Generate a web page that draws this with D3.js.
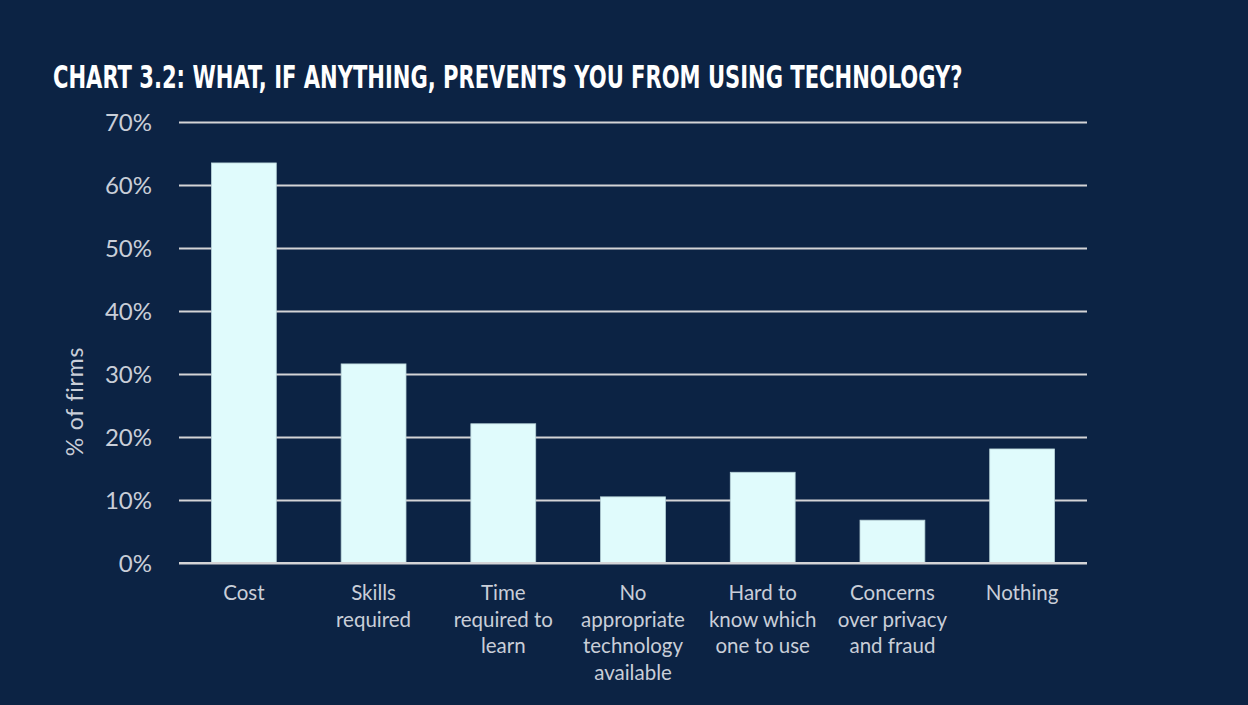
<!DOCTYPE html>
<html>
<head>
<meta charset="utf-8">
<script src="https://cdn.jsdelivr.net/npm/d3@7"></script>
<style>
  html, body { margin: 0; padding: 0; background: #0c2344; }
  svg { display: block; }
</style>
</head>
<body>
<svg id="chart" width="1248" height="705"></svg>
<script>
// Survey: barriers to technology adoption (% of firms)
const categories = [
  ["Cost"],
  ["Skills", "required"],
  ["Time", "required to", "learn"],
  ["No", "appropriate", "technology", "available"],
  ["Hard to", "know which", "one to use"],
  ["Concerns", "over privacy", "and fraud"],
  ["Nothing"]
];
const values = [63.5, 31.6, 22.1, 10.5, 14.4, 6.8, 18.1];
const yTicks = [0, 10, 20, 30, 40, 50, 60, 70];
const titleText = "CHART 3.2: WHAT, IF ANYTHING, PREVENTS YOU FROM USING TECHNOLOGY?";
const yAxisTitle = "% of firms";

const svg = d3.select("#chart");
const W = 1248, H = 705;
const labelFont = "Lato, 'Open Sans', sans-serif";
const labelColor = "#c9ced8";

svg.append("rect").attr("width", W).attr("height", H).attr("fill", "#0c2344");

const plotLeft = 179, plotRight = 1087, plotTop = 122, plotBottom = 563;

const x = d3.scaleBand()
  .domain(categories.map((d, i) => i))
  .range([plotLeft, plotRight])
  .paddingInner(0.5)
  .paddingOuter(0.25);

const y = d3.scaleLinear().domain([0, 70]).range([plotBottom, plotTop]);

// Title: condensed face, squeezed horizontally to a fixed width
const titleG = svg.append("g").attr("transform", "translate(53,88)");
const title = titleG.append("text")
  .attr("x", 0).attr("y", 0)
  .attr("fill", "#ffffff")
  .attr("font-family", "'Liberation Sans Narrow', 'DejaVu Sans Condensed', sans-serif")
  .attr("font-weight", "bold")
  .attr("font-size", 32)
  .text(titleText);
const natural = title.node().getComputedTextLength();
const titleWidth = 910;
if (natural > 0) {
  title.attr("transform", `scale(${titleWidth / natural},1)`);
}

// Gridlines and y tick labels
const yAxis = d3.axisLeft(y)
  .tickValues(yTicks)
  .tickSize(-(plotRight - plotLeft))
  .tickPadding(27)
  .tickFormat(d => d + "%");

const gy = svg.append("g")
  .attr("transform", `translate(${plotLeft},0)`)
  .call(yAxis);
gy.select(".domain").remove();
gy.selectAll(".tick line")
  .attr("stroke", "#d4d4d6")
  .attr("stroke-width", 2.2);
gy.selectAll(".tick text")
  .attr("fill", labelColor)
  .attr("font-family", labelFont)
  .attr("font-size", 24)
  .attr("dy", "0.36em");

// Bars
svg.append("g").selectAll("rect")
  .data(values)
  .join("rect")
  .attr("x", (d, i) => x(i))
  .attr("y", d => y(d))
  .attr("width", x.bandwidth())
  .attr("height", d => y(0) - y(d))
  .attr("fill", "#e0fbfc")
  .attr("stroke", "#b9d3d8")
  .attr("stroke-width", 0.8);

// Baseline over bars
svg.append("line")
  .attr("x1", plotLeft).attr("x2", plotRight)
  .attr("y1", y(0)).attr("y2", y(0))
  .attr("stroke", "#d4d4d6")
  .attr("stroke-width", 2.2);

// Category labels
const xl = svg.append("g");
categories.forEach((lines, i) => {
  const t = xl.append("text")
    .attr("x", x(i) + x.bandwidth() / 2)
    .attr("y", 600)
    .attr("text-anchor", "middle")
    .attr("fill", labelColor)
    .attr("font-family", labelFont)
    .attr("font-size", 20.5);
  lines.forEach((ln, j) => {
    t.append("tspan")
      .attr("x", x(i) + x.bandwidth() / 2)
      .attr("dy", j === 0 ? 0 : 26.5)
      .text(ln);
  });
});

// Y axis title
svg.append("text")
  .attr("transform", `translate(83,${(plotTop + plotBottom) / 2 + 59}) rotate(-90)`)
  .attr("text-anchor", "middle")
  .attr("fill", labelColor)
  .attr("font-family", labelFont)
  .attr("font-size", 23)
  .attr("letter-spacing", 0.8)
  .text(yAxisTitle);
</script>
</body>
</html>
